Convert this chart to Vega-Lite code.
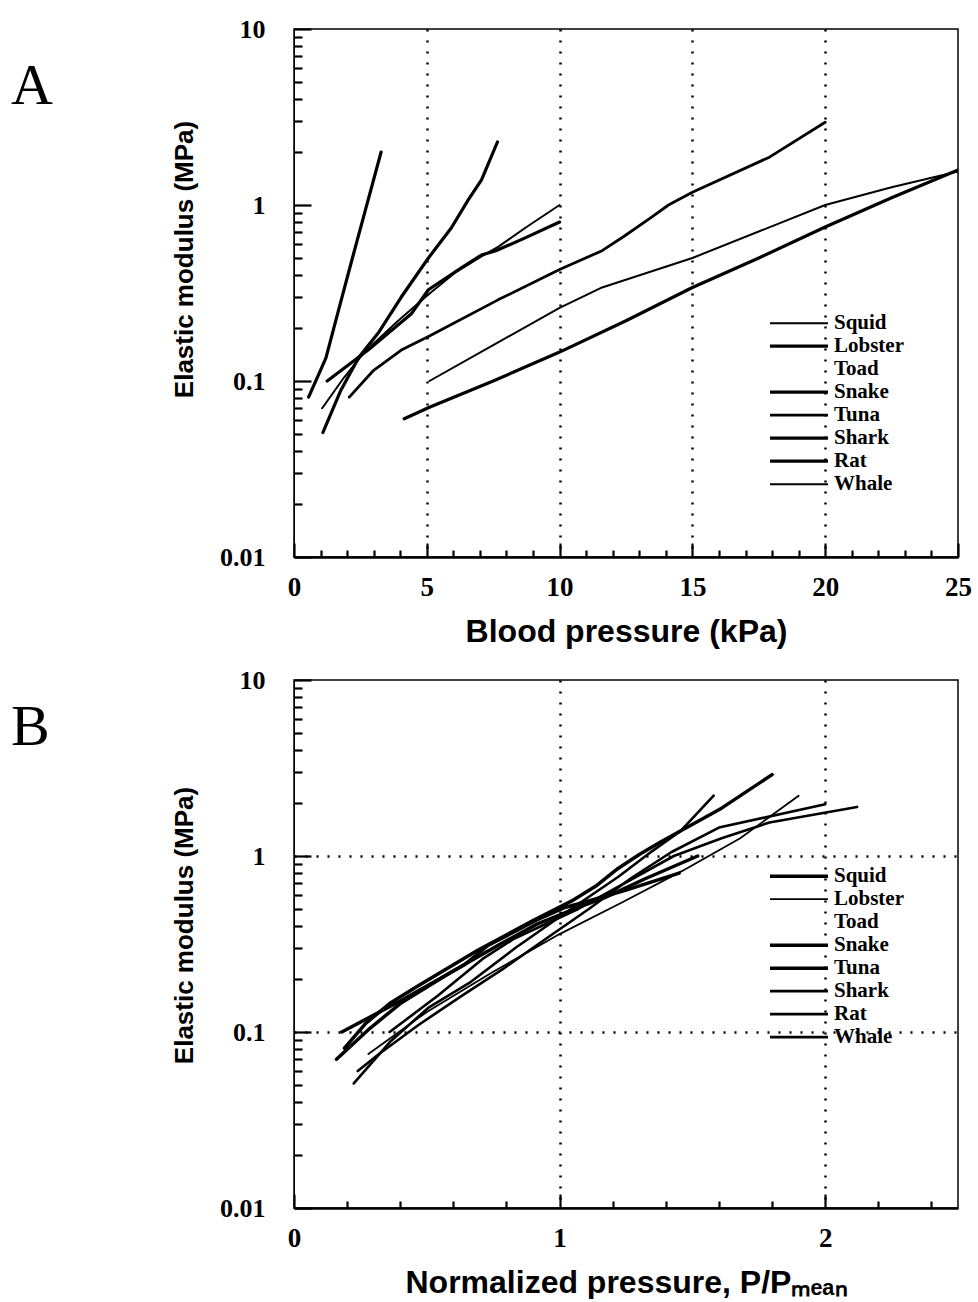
{
  "$schema": "https://vega.github.io/schema/vega-lite/v6.json",
  "background": "white",
  "padding": {"left": 10, "top": 15, "right": 10, "bottom": 0},
  "spacing": 18,
  "config": {
    "view": {"stroke": "black", "strokeWidth": 1.5},
    "axis": {"labelColor": "black", "tickColor": "black", "domainColor": "black", "titleColor": "black", "tickWidth": 2.2},
    "line": {"strokeCap": "round", "strokeJoin": "round"}
  },
  "datasets": {
    "A": [
      {"species": "Lobster", "p": 0.55, "E": 0.081}, {"species": "Lobster", "p": 1.2, "E": 0.135}, {"species": "Lobster", "p": 1.7, "E": 0.26}, {"species": "Lobster", "p": 2.2, "E": 0.5}, {"species": "Lobster", "p": 2.7, "E": 0.95}, {"species": "Lobster", "p": 3.28, "E": 2.0},
      {"species": "Shark", "p": 1.09, "E": 0.051}, {"species": "Shark", "p": 1.77, "E": 0.089}, {"species": "Shark", "p": 2.45, "E": 0.137}, {"species": "Shark", "p": 3.2, "E": 0.19}, {"species": "Shark", "p": 4.04, "E": 0.3}, {"species": "Shark", "p": 5.06, "E": 0.5}, {"species": "Shark", "p": 5.92, "E": 0.74}, {"species": "Shark", "p": 6.56, "E": 1.07}, {"species": "Shark", "p": 7.06, "E": 1.39}, {"species": "Shark", "p": 7.66, "E": 2.28},
      {"species": "Squid", "p": 1.06, "E": 0.07}, {"species": "Squid", "p": 1.89, "E": 0.105}, {"species": "Squid", "p": 2.64, "E": 0.145}, {"species": "Squid", "p": 3.92, "E": 0.22}, {"species": "Squid", "p": 5.06, "E": 0.31}, {"species": "Squid", "p": 6.04, "E": 0.41}, {"species": "Squid", "p": 7.06, "E": 0.51}, {"species": "Squid", "p": 7.7, "E": 0.58}, {"species": "Squid", "p": 8.7, "E": 0.74}, {"species": "Squid", "p": 10, "E": 1.0},
      {"species": "Snake", "p": 1.25, "E": 0.1}, {"species": "Snake", "p": 2.79, "E": 0.15}, {"species": "Snake", "p": 4.41, "E": 0.24}, {"species": "Snake", "p": 5.06, "E": 0.33}, {"species": "Snake", "p": 6.3, "E": 0.44}, {"species": "Snake", "p": 7.06, "E": 0.52}, {"species": "Snake", "p": 7.6, "E": 0.55}, {"species": "Snake", "p": 8.6, "E": 0.64}, {"species": "Snake", "p": 10, "E": 0.8},
      {"species": "Tuna", "p": 2.08, "E": 0.081}, {"species": "Tuna", "p": 3.0, "E": 0.115}, {"species": "Tuna", "p": 4.04, "E": 0.15}, {"species": "Tuna", "p": 5.1, "E": 0.18}, {"species": "Tuna", "p": 7.7, "E": 0.29}, {"species": "Tuna", "p": 10, "E": 0.43}, {"species": "Tuna", "p": 11.6, "E": 0.55}, {"species": "Tuna", "p": 12.4, "E": 0.66}, {"species": "Tuna", "p": 13.4, "E": 0.84}, {"species": "Tuna", "p": 14.1, "E": 1.0}, {"species": "Tuna", "p": 15, "E": 1.18}, {"species": "Tuna", "p": 17.9, "E": 1.87}, {"species": "Tuna", "p": 20, "E": 2.95},
      {"species": "Whale", "p": 5.1, "E": 0.1}, {"species": "Whale", "p": 7.5, "E": 0.16}, {"species": "Whale", "p": 10, "E": 0.26}, {"species": "Whale", "p": 11.6, "E": 0.34}, {"species": "Whale", "p": 15, "E": 0.5}, {"species": "Whale", "p": 20, "E": 1.0}, {"species": "Whale", "p": 22.5, "E": 1.26}, {"species": "Whale", "p": 25, "E": 1.55},
      {"species": "Rat", "p": 4.15, "E": 0.061}, {"species": "Rat", "p": 5.1, "E": 0.071}, {"species": "Rat", "p": 7.5, "E": 0.1}, {"species": "Rat", "p": 10, "E": 0.146}, {"species": "Rat", "p": 12.5, "E": 0.22}, {"species": "Rat", "p": 15, "E": 0.34}, {"species": "Rat", "p": 17.5, "E": 0.5}, {"species": "Rat", "p": 20, "E": 0.75}, {"species": "Rat", "p": 22.5, "E": 1.1}, {"species": "Rat", "p": 25, "E": 1.58}
    ],
    "B": [
      {"species": "Lobster", "p": 0.28, "E": 0.075}, {"species": "Lobster", "p": 0.5, "E": 0.13}, {"species": "Lobster", "p": 0.75, "E": 0.22}, {"species": "Lobster", "p": 1.0, "E": 0.36}, {"species": "Lobster", "p": 1.24, "E": 0.55}, {"species": "Lobster", "p": 1.46, "E": 0.82}, {"species": "Lobster", "p": 1.68, "E": 1.26}, {"species": "Lobster", "p": 1.9, "E": 2.2},
      {"species": "Shark", "p": 0.225, "E": 0.051}, {"species": "Shark", "p": 0.365, "E": 0.089}, {"species": "Shark", "p": 0.505, "E": 0.137}, {"species": "Shark", "p": 0.66, "E": 0.19}, {"species": "Shark", "p": 0.833, "E": 0.3}, {"species": "Shark", "p": 1.043, "E": 0.5}, {"species": "Shark", "p": 1.22, "E": 0.76}, {"species": "Shark", "p": 1.35, "E": 1.07}, {"species": "Shark", "p": 1.456, "E": 1.39}, {"species": "Shark", "p": 1.58, "E": 2.2},
      {"species": "Squid", "p": 0.16, "E": 0.07}, {"species": "Squid", "p": 0.286, "E": 0.105}, {"species": "Squid", "p": 0.4, "E": 0.145}, {"species": "Squid", "p": 0.594, "E": 0.22}, {"species": "Squid", "p": 0.767, "E": 0.31}, {"species": "Squid", "p": 0.915, "E": 0.41}, {"species": "Squid", "p": 1.07, "E": 0.51}, {"species": "Squid", "p": 1.17, "E": 0.58}, {"species": "Squid", "p": 1.32, "E": 0.74}, {"species": "Squid", "p": 1.52, "E": 1.0},
      {"species": "Snake", "p": 0.18, "E": 0.1}, {"species": "Snake", "p": 0.4, "E": 0.15}, {"species": "Snake", "p": 0.64, "E": 0.24}, {"species": "Snake", "p": 0.73, "E": 0.31}, {"species": "Snake", "p": 0.91, "E": 0.43}, {"species": "Snake", "p": 1.02, "E": 0.51}, {"species": "Snake", "p": 1.1, "E": 0.55}, {"species": "Snake", "p": 1.25, "E": 0.64}, {"species": "Snake", "p": 1.45, "E": 0.8},
      {"species": "Tuna", "p": 0.19, "E": 0.081}, {"species": "Tuna", "p": 0.27, "E": 0.112}, {"species": "Tuna", "p": 0.36, "E": 0.145}, {"species": "Tuna", "p": 0.46, "E": 0.18}, {"species": "Tuna", "p": 0.69, "E": 0.29}, {"species": "Tuna", "p": 0.9, "E": 0.43}, {"species": "Tuna", "p": 1.05, "E": 0.56}, {"species": "Tuna", "p": 1.14, "E": 0.68}, {"species": "Tuna", "p": 1.22, "E": 0.85}, {"species": "Tuna", "p": 1.3, "E": 1.02}, {"species": "Tuna", "p": 1.38, "E": 1.2}, {"species": "Tuna", "p": 1.61, "E": 1.87}, {"species": "Tuna", "p": 1.8, "E": 2.9},
      {"species": "Whale", "p": 0.36, "E": 0.1}, {"species": "Whale", "p": 0.54, "E": 0.16}, {"species": "Whale", "p": 0.71, "E": 0.26}, {"species": "Whale", "p": 0.83, "E": 0.34}, {"species": "Whale", "p": 1.07, "E": 0.5}, {"species": "Whale", "p": 1.43, "E": 1.0}, {"species": "Whale", "p": 1.61, "E": 1.26}, {"species": "Whale", "p": 1.79, "E": 1.55}, {"species": "Whale", "p": 2.12, "E": 1.9},
      {"species": "Rat", "p": 0.24, "E": 0.06}, {"species": "Rat", "p": 0.32, "E": 0.075}, {"species": "Rat", "p": 0.47, "E": 0.11}, {"species": "Rat", "p": 0.63, "E": 0.16}, {"species": "Rat", "p": 0.79, "E": 0.23}, {"species": "Rat", "p": 0.95, "E": 0.34}, {"species": "Rat", "p": 1.11, "E": 0.5}, {"species": "Rat", "p": 1.27, "E": 0.75}, {"species": "Rat", "p": 1.42, "E": 1.05}, {"species": "Rat", "p": 1.6, "E": 1.45}, {"species": "Rat", "p": 2.0, "E": 1.97}
    ]
  },
  "vconcat": [
    {
      "width": 664,
      "height": 528,
      "title": {"text": "A", "orient": "top", "anchor": "start", "frame": "group", "dx": -283, "dy": 146, "offset": 0, "baseline": "alphabetic", "font": "Liberation Serif", "fontSize": 58, "fontWeight": "normal", "color": "black"},
      "data": {"name": "A"},
      "mark": {"type": "line", "interpolate": "linear", "clip": true},
      "encoding": {
        "x": {
          "field": "p", "type": "quantitative",
          "scale": {"domain": [0, 25], "nice": false, "zero": false},
          "axis": {
            "values": [0,1,2,3,4,5,6,7,8,9,10,11,12,13,14,15,16,17,18,19,20,21,22,23,24,25],
            "labelExpr": "datum.value % 5 === 0 ? datum.label : ''",
            "labelFlush": false, "labelOverlap": false,
            "labelFont": "Liberation Serif", "labelFontWeight": "bold", "labelFontSize": 27,
            "tickSize": {"condition": {"test": "datum.value % 5 === 0", "value": -14}, "value": -7},
            "labelPadding": 31,
            "domainWidth": 2.5,
            "grid": true,
            "gridOpacity": {"condition": {"test": "datum.value % 5 === 0 && datum.value > 0 && datum.value < 25", "value": 1}, "value": 0},
            "gridDash": [2, 9], "gridWidth": 2.5, "gridColor": "black",
            "title": "Blood pressure (kPa)",
            "titleFont": "Liberation Sans", "titleFontSize": 32, "titleFontWeight": "bold",
            "titlePadding": 9
          }
        },
        "y": {
          "field": "E", "type": "quantitative",
          "scale": {"type": "log", "domain": [0.01, 10], "nice": false},
          "axis": {
            "values": [0.01,0.02,0.03,0.04,0.05,0.06,0.07,0.08,0.09,0.1,0.2,0.3,0.4,0.5,0.6,0.7,0.8,0.9,1,2,3,4,5,6,7,8,9,10],
            "labelExpr": "indexof([0.01,0.1,1,10], datum.value) >= 0 ? format(datum.value, '~g') : ''",
            "labelOverlap": false,
            "labelFont": "Liberation Serif", "labelFontWeight": "bold", "labelFontSize": 26,
            "tickSize": {"condition": {"test": "indexof([0.01,0.1,1,10], datum.value) >= 0", "value": -17}, "value": -8},
            "labelPadding": 46,
            "domainWidth": 1,
            "grid": false,
            "title": "Elastic modulus (MPa)",
            "titleFont": "Liberation Sans", "titleFontSize": 26, "titleFontWeight": "bold",
            "titleX": -110, "titleY": 230, "titleBaseline": "middle"
          }
        },
        "color": {
          "field": "species", "type": "nominal",
          "scale": {"domain": ["Squid","Lobster","Toad","Snake","Tuna","Shark","Rat","Whale"], "range": ["black","black","transparent","black","black","black","black","black"]},
          "legend": {"orient": "none", "legendX": 474, "legendY": 283, "title": null, "symbolType": "stroke", "symbolSize": 3364, "clipHeight": 22.3, "rowPadding": 0, "padding": 0, "labelFont": "Liberation Serif", "labelFontWeight": "bold", "labelFontSize": 21, "labelColor": "black", "labelOffset": 4}
        },
        "strokeWidth": {
          "field": "species", "type": "ordinal",
          "scale": {"type": "ordinal", "domain": ["Squid","Lobster","Toad","Snake","Tuna","Shark","Rat","Whale"], "range": [2.0, 3.2, 0, 3.2, 2.8, 3.2, 3.2, 2.0]},
          "legend": {"orient": "none", "legendX": 474, "legendY": 283, "title": null, "symbolType": "stroke", "symbolSize": 3364, "clipHeight": 22.3, "rowPadding": 0, "padding": 0, "labelFont": "Liberation Serif", "labelFontWeight": "bold", "labelFontSize": 21, "labelColor": "black", "labelOffset": 4}
        }
      }
    },
    {
      "width": 664,
      "height": 528,
      "title": {"text": "B", "orient": "top", "anchor": "start", "frame": "group", "dx": -283, "dy": 136, "offset": 0, "baseline": "alphabetic", "font": "Liberation Serif", "fontSize": 58, "fontWeight": "normal", "color": "black"},
      "data": {"name": "B"},
      "mark": {"type": "line", "interpolate": "linear", "clip": true},
      "encoding": {
        "x": {
          "field": "p", "type": "quantitative",
          "scale": {"domain": [0, 2.5], "nice": false, "zero": false},
          "axis": {
            "values": [0,0.2,0.4,0.6,0.8,1,1.2,1.4,1.6,1.8,2,2.2,2.4],
            "labelExpr": "indexof([0,1,2], datum.value) >= 0 ? format(datum.value, 'd') : ''",
            "labelFlush": false, "labelOverlap": false,
            "labelFont": "Liberation Serif", "labelFontWeight": "bold", "labelFontSize": 27,
            "tickSize": {"condition": {"test": "indexof([0,1,2], datum.value) >= 0", "value": -14}, "value": -7},
            "labelPadding": 31,
            "domainWidth": 2.5,
            "grid": true,
            "gridOpacity": {"condition": {"test": "indexof([1,2], datum.value) >= 0", "value": 1}, "value": 0},
            "gridDash": [2, 9], "gridWidth": 2.5, "gridColor": "black",
            "title": "Normalized pressure, P/Pₘₑₐₙ",
            "titleFont": "Liberation Sans", "titleFontSize": 32, "titleFontWeight": "bold",
            "titlePadding": 9
          }
        },
        "y": {
          "field": "E", "type": "quantitative",
          "scale": {"type": "log", "domain": [0.01, 10], "nice": false},
          "axis": {
            "values": [0.01,0.02,0.03,0.04,0.05,0.06,0.07,0.08,0.09,0.1,0.2,0.3,0.4,0.5,0.6,0.7,0.8,0.9,1,2,3,4,5,6,7,8,9,10],
            "labelExpr": "indexof([0.01,0.1,1,10], datum.value) >= 0 ? format(datum.value, '~g') : ''",
            "labelOverlap": false,
            "labelFont": "Liberation Serif", "labelFontWeight": "bold", "labelFontSize": 26,
            "tickSize": {"condition": {"test": "indexof([0.01,0.1,1,10], datum.value) >= 0", "value": -17}, "value": -8},
            "labelPadding": 46,
            "domainWidth": 1,
            "grid": true,
            "gridOpacity": {"condition": {"test": "indexof([0.1,1], datum.value) >= 0", "value": 1}, "value": 0},
            "gridDash": [2, 9], "gridWidth": 2.5, "gridColor": "black",
            "title": "Elastic modulus (MPa)",
            "titleFont": "Liberation Sans", "titleFontSize": 26, "titleFontWeight": "bold",
            "titleX": -110, "titleY": 245, "titleBaseline": "middle"
          }
        },
        "color": {
          "field": "species", "type": "nominal",
          "scale": {"domain": ["Squid","Lobster","Toad","Snake","Tuna","Shark","Rat","Whale"], "range": ["black","black","transparent","black","black","black","black","black"]},
          "legend": {"orient": "none", "legendX": 474, "legendY": 185, "title": null, "symbolType": "stroke", "symbolSize": 3364, "clipHeight": 22.3, "rowPadding": 0, "padding": 0, "labelFont": "Liberation Serif", "labelFontWeight": "bold", "labelFontSize": 21, "labelColor": "black", "labelOffset": 4}
        },
        "strokeWidth": {
          "field": "species", "type": "ordinal",
          "scale": {"type": "ordinal", "domain": ["Squid","Lobster","Toad","Snake","Tuna","Shark","Rat","Whale"], "range": [3.5, 1.8, 0, 3.5, 3.5, 2.6, 2.6, 2.6]},
          "legend": {"orient": "none", "legendX": 474, "legendY": 185, "title": null, "symbolType": "stroke", "symbolSize": 3364, "clipHeight": 22.3, "rowPadding": 0, "padding": 0, "labelFont": "Liberation Serif", "labelFontWeight": "bold", "labelFontSize": 21, "labelColor": "black", "labelOffset": 4}
        }
      }
    }
  ],
  "resolve": {
    "scale": {"x": "independent", "y": "independent", "color": "independent", "strokeWidth": "independent"},
    "legend": {"color": "independent", "strokeWidth": "independent"}
  }
}
